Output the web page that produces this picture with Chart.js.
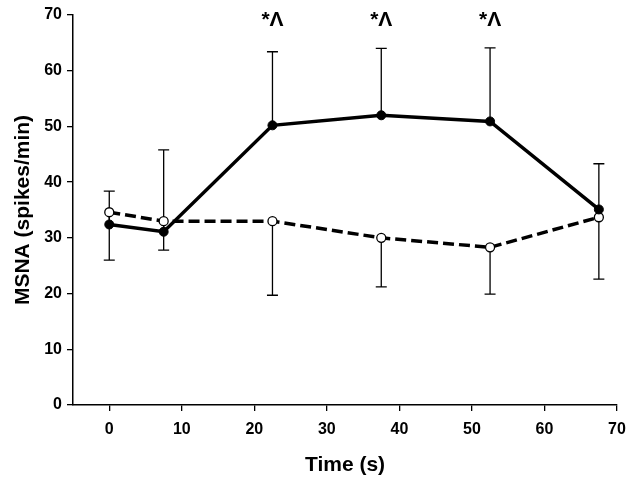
<!DOCTYPE html>
<html>
<head>
<meta charset="utf-8">
<script src="https://cdn.jsdelivr.net/npm/chart.js@4"></script>
<style>
  html, body { margin: 0; padding: 0; background: #fff; }
  #wrap { width: 630px; height: 483px; }
</style>
</head>
<body>
<div id="wrap"><canvas id="mycanvas" width="630" height="483"></canvas></div>
<script>
// time points (s)
var times = [0, 7.5, 22.5, 37.5, 52.5, 67.5];

// solid line, filled circles (error bars drawn upward)
var solidMean = [32.4, 31.1, 50.2, 52.0, 50.9, 35.1];
var solidSD   = [6.0, 14.7, 13.2, 12.0, 13.2, 8.2];

// dashed line, open circles (error bars drawn downward)
var dashedMean = [34.6, 33.0, 33.0, 30.0, 28.3, 33.7];
var dashedSD   = [8.6, 5.2, 13.3, 8.8, 8.4, 11.1];

var xTicks = [0, 10, 20, 30, 40, 50, 60, 70];
var yTicks = [0, 10, 20, 30, 40, 50, 60, 70];

// significance marks
var markTimes = [22.5, 37.5, 52.5];
var markLevel = 69;
var markText = "*Λ";

var fontFam = "'Liberation Sans', Arial, sans-serif";

function toPoints(xs, ys) {
	var out = [];
	for (var i in xs) {
		out.push({x: xs[i], y: ys[i]});
	}
	return out;
}

var errorBars = {
	id: 'errorBars',
	beforeDatasetsDraw: function(chart) {
		var ctx = chart.ctx;
		var xs = chart.scales.x;
		var ys = chart.scales.y;
		ctx.save();
		ctx.strokeStyle = '#000';
		ctx.lineWidth = 1.3;
		chart.data.datasets.forEach(function(ds) {
			for (var i = 0; i < ds.data.length; i++) {
				var px = xs.getPixelForValue(ds.data[i].x);
				var y0 = ys.getPixelForValue(ds.data[i].y);
				var y1 = ys.getPixelForValue(ds.data[i].y + ds.errDir * ds.err[i]);
				ctx.beginPath();
				ctx.moveTo(px, y0);
				ctx.lineTo(px, y1);
				ctx.moveTo(px - 5.5, y1);
				ctx.lineTo(px + 5.5, y1);
				ctx.stroke();
			}
		});
		ctx.restore();
	},
	afterDraw: function(chart) {
		var ctx = chart.ctx;
		var xs = chart.scales.x;
		var ys = chart.scales.y;
		ctx.save();
		ctx.fillStyle = '#000';
		ctx.font = "bold 21px " + fontFam;
		ctx.textAlign = 'center';
		ctx.textBaseline = 'middle';
		for (var i in markTimes) {
			ctx.fillText(markText, xs.getPixelForValue(markTimes[i]), ys.getPixelForValue(markLevel));
		}
		ctx.restore();
	}
};

var chartdata = {
	datasets: [
		{
			label: "Solid",
			data: toPoints(times, solidMean),
			err: solidSD,
			errDir: 1,
			borderColor: "#000",
			borderWidth: 3.5,
			pointRadius: 4.5,
			pointBackgroundColor: "#000",
			pointBorderColor: "#000",
			pointBorderWidth: 1,
			tension: 0
		},
		{
			label: "Dashed",
			data: toPoints(times, dashedMean),
			err: dashedSD,
			errDir: -1,
			borderColor: "#000",
			borderWidth: 3.5,
			borderDash: [11, 5],
			pointRadius: 4.5,
			pointBackgroundColor: "#fff",
			pointBorderColor: "#000",
			pointBorderWidth: 1.3,
			tension: 0
		}
	]
};

var ctx = document.getElementById("mycanvas");

var LineGraph = new Chart(ctx, {
	type: 'line',
	data: chartdata,
	plugins: [errorBars],
	options: {
		responsive: false,
		animation: false,
		layout: { padding: { top: 15, right: 13, left: 0, bottom: 0 } },
		plugins: {
			legend: { display: false },
			tooltip: { enabled: false }
		},
		scales: {
			x: {
				type: 'linear',
				min: -5,
				max: 70,
				afterBuildTicks: function(scale) {
					scale.ticks = xTicks.map(function(v) { return {value: v}; });
				},
				afterFit: function(scale) {
					scale.height = 78;
					scale.paddingLeft = 0;
					scale.paddingRight = 0;
				},
				grid: { drawOnChartArea: false, color: '#000', lineWidth: 1.3, tickLength: 6 },
				border: { color: '#000', width: 1.5 },
				ticks: {
					color: '#000',
					padding: 9,
					maxRotation: 0,
					font: { family: fontFam, size: 16, weight: 'bold' }
				},
				title: {
					display: true,
					text: "Time (s)",
					color: '#000',
					padding: { top: 0, bottom: 5 },
					font: { family: fontFam, size: 21, weight: 'bold' }
				}
			},
			y: {
				min: 0,
				max: 70,
				afterBuildTicks: function(scale) {
					scale.ticks = yTicks.map(function(v) { return {value: v}; });
				},
				afterFit: function(scale) {
					scale.width = 73;
					scale.paddingTop = 0;
					scale.paddingBottom = 0;
				},
				grid: { drawOnChartArea: false, color: '#000', lineWidth: 1.3, tickLength: 6 },
				border: { color: '#000', width: 1.5 },
				ticks: {
					color: '#000',
					padding: 5,
					font: { family: fontFam, size: 16, weight: 'bold' }
				},
				title: {
					display: true,
					text: "MSNA (spikes/min)",
					color: '#000',
					padding: { top: 11, bottom: 0 },
					font: { family: fontFam, size: 21, weight: 'bold' }
				}
			}
		}
	}
});
</script>
</body>
</html>
